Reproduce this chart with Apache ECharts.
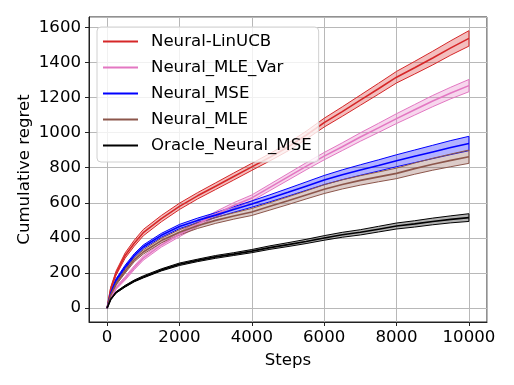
<!DOCTYPE html>
<html>
<head>
<meta charset="utf-8">
<script src="https://cdn.jsdelivr.net/npm/echarts@6/dist/echarts.min.js"></script>
<style>html,body{margin:0;padding:0;background:#fff}#c{width:514px;height:385px}</style>
</head>
<body>
<div id="c"></div>
<script>
const steps = [0,100,250,500,750,1000,1500,2000,2500,3000,3500,4000,4500,5000,5500,6000,6500,7000,7500,8000,8500,9000,9500,10000];
const names = ['Neural-LinUCB','Neural_MLE_Var','Neural_MSE','Neural_MLE','Oracle_Neural_MSE'];
const linucbMean = [0,110,200,300,370,430,510,580,640,695,750,805,860,918,985,1057,1120,1185,1250,1316,1370,1425,1483,1537];
const linucbStd  = [0,8,12,15,17,18,18,18,18,19,20,20,21,22,23,25,27,29,31,33,36,39,41,44];
const mleVarMean = [0,60,115,170,230,285,360,420,478,535,585,628,688,748,808,866,920,975,1027,1080,1130,1180,1226,1268];
const mleVarStd  = [0,6,8,10,11,12,12,13,14,15,16,17,18,19,20,21,22,24,26,28,30,32,33,35];
const mseMean    = [0,85,160,235,300,350,415,465,500,530,562,593,626,660,695,730,760,787,813,840,865,890,915,938];
const mseStd     = [0,6,8,10,10,10,11,12,13,14,16,18,20,22,24,26,28,30,32,34,36,38,40,41];
const mleMean    = [0,75,140,210,275,320,385,432,470,500,525,548,580,612,645,678,705,728,748,768,795,820,842,863];
const mleStd     = [0,6,8,10,11,12,13,15,16,17,18,20,21,22,23,25,26,27,28,30,32,34,36,38];
const oracleMean = [0,50,90,125,155,178,218,250,272,292,308,325,345,362,380,400,418,432,450,468,480,494,506,516];
const oracleStd  = [0,3,4,5,5,6,6,7,7,8,8,9,10,11,12,13,14,15,16,17,18,19,20,22];
const yTicks = [0,200,400,600,800,1000,1200,1400,1600];
const xTicks = [0,2000,4000,6000,8000,10000];

const means = [linucbMean, mleVarMean, mseMean, mleMean, oracleMean];
const stds = [linucbStd, mleVarStd, mseStd, mleStd, oracleStd];
const colors = ['#d62728','#e377c2','#0000ff','#8c564b','#000000'];
const fills = ['rgba(214,39,40,0.3)','rgba(227,119,194,0.3)','rgba(0,0,255,0.3)','rgba(140,86,75,0.3)','rgba(0,0,0,0.3)'];

const series = [];
means.forEach((m, k) => {
  const sd = stds[k];
  const upper = m.map((v, i) => v + sd[i]);
  const lower = m.map((v, i) => v - sd[i]);
  series.push({
    name: names[k], type: 'line', showSymbol: false, symbol: 'none',
    data: steps.map((s, i) => [s, m[i]]),
    lineStyle: { color: colors[k], width: 1.6 }, itemStyle: { color: colors[k] },
    silent: true
  });
  series.push({
    name: names[k] + ' band', type: 'custom', silent: true,
    data: steps.map((s, i) => [s, m[i]]),
    encode: { x: 0, y: 1 },
    renderItem: (params, api) => {
      if (params.dataIndex !== 0) return null;
      const pts = [];
      for (let i = 0; i < steps.length; i++) pts.push(api.coord([steps[i], upper[i]]));
      for (let i = steps.length - 1; i >= 0; i--) pts.push(api.coord([steps[i], lower[i]]));
      return { type: 'polygon', shape: { points: pts },
        style: { fill: fills[k], stroke: colors[k], lineWidth: 1 } };
    }
  });
});

const font = 'DejaVu Sans';
const fs = 16.6;
const chart = echarts.init(document.getElementById('c'), null, { renderer: 'canvas' });
chart.setOption({
  animation: false,
  backgroundColor: '#fff',
  grid: { left: 89, right: 27, top: 17, bottom: 63, show: true, borderColor: '#222', borderWidth: 1, backgroundColor: 'transparent' },
  legend: {
    data: names, orient: 'vertical', left: 97, top: 27,
    icon: 'rect', itemWidth: 35, itemHeight: 2, itemGap: 9,
    padding: [6, 7, 8, 6],
    backgroundColor: 'rgba(255,255,255,0.8)', borderColor: '#d0d0d0', borderWidth: 1, borderRadius: 4,
    textStyle: { fontFamily: font, fontSize: fs, color: '#000', lineHeight: 16, padding: [0, 0, 0, 8] },
    selectedMode: false
  },
  xAxis: {
    type: 'value', min: -500, max: 10500, minInterval: 2000, maxInterval: 2000,
    name: 'Steps', nameLocation: 'middle', nameGap: 30, nameMoveOverlap: false,
    nameTextStyle: { fontFamily: font, fontSize: fs, color: '#000' },
    axisLine: { show: true, onZero: false, lineStyle: { color: '#222', width: 1 } },
    axisTick: { show: true, length: 4, lineStyle: { color: '#222' } },
    axisLabel: { fontFamily: font, fontSize: fs, color: '#000', margin: 7, showMinLabel: false, showMaxLabel: false,
      formatter: v => xTicks.includes(v) ? String(v) : '' },
    splitLine: { show: true, lineStyle: { color: '#b8b8b8', width: 1 } }
  },
  yAxis: {
    type: 'value', min: -79, max: 1659, minInterval: 200, maxInterval: 200,
    name: 'Cumulative regret', nameLocation: 'middle', nameGap: 56, nameMoveOverlap: false,
    nameTextStyle: { fontFamily: font, fontSize: fs, color: '#000' },
    axisLine: { show: true, onZero: false, lineStyle: { color: '#222', width: 1 } },
    axisTick: { show: true, length: 4, lineStyle: { color: '#222' } },
    axisLabel: { fontFamily: font, fontSize: fs, color: '#000', margin: 8, showMinLabel: false, showMaxLabel: false,
      formatter: v => yTicks.includes(v) ? String(v) : '' },
    splitLine: { show: true, lineStyle: { color: '#b8b8b8', width: 1 } }
  },
  series: series
});
</script>
</body>
</html>
